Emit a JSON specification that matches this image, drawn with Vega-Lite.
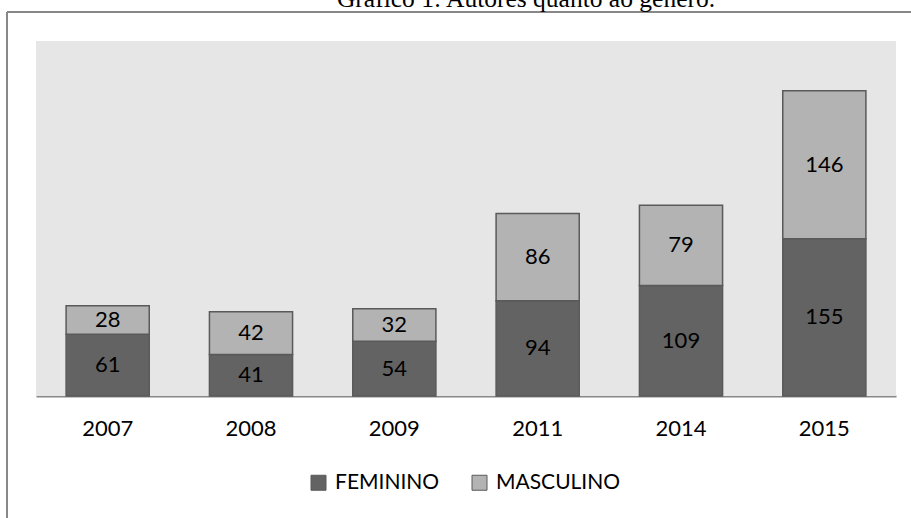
{
  "$schema": "https://vega.github.io/schema/vega-lite/v6.json",
  "width": 904,
  "height": 506,
  "autosize": {"type": "none"},
  "padding": {"left": 7, "top": 12, "right": 0, "bottom": 0},
  "background": "white",
  "title": {
    "text": "Gráfico 1: Autores quanto ao gênero.",
    "font": "Liberation Serif",
    "fontSize": 25.5,
    "fontWeight": "normal",
    "color": "#000000",
    "anchor": "middle",
    "dx": 67,
    "offset": 0
  },
  "config": {
    "view": {"stroke": "#888888", "strokeWidth": 2, "fill": "white", "strokeDash": [904, 1410, 506, 0]},
    "font": "Lato"
  },
  "layer": [
    {
      "data": {"values": [{"lo": 0, "hi": 1, "ylo": 0, "yhi": 350}]},
      "mark": {"type": "rect", "fill": "#e6e6e6"},
      "encoding": {
        "x": {"field": "lo", "type": "quantitative", "scale": {"domain": [0, 1], "range": [29, 889]}, "axis": null},
        "x2": {"field": "hi"},
        "y": {"field": "ylo", "type": "quantitative", "scale": {"domain": [0, 350], "range": [384, 29]}, "axis": null},
        "y2": {"field": "yhi"}
      }
    },
    {
      "data": {"name": "autores", "values": [
        {"ano": "2007", "sexo": "FEMININO", "n": 61},
        {"ano": "2007", "sexo": "MASCULINO", "n": 28},
        {"ano": "2008", "sexo": "FEMININO", "n": 41},
        {"ano": "2008", "sexo": "MASCULINO", "n": 42},
        {"ano": "2009", "sexo": "FEMININO", "n": 54},
        {"ano": "2009", "sexo": "MASCULINO", "n": 32},
        {"ano": "2011", "sexo": "FEMININO", "n": 94},
        {"ano": "2011", "sexo": "MASCULINO", "n": 86},
        {"ano": "2014", "sexo": "FEMININO", "n": 109},
        {"ano": "2014", "sexo": "MASCULINO", "n": 79},
        {"ano": "2015", "sexo": "FEMININO", "n": 155},
        {"ano": "2015", "sexo": "MASCULINO", "n": 146}
      ]},
      "layer": [
        {
          "mark": {"type": "bar", "stroke": "#5a5a5a", "strokeWidth": 1.5},
          "encoding": {
            "x": {
              "field": "ano", "type": "nominal",
              "scale": {"range": [29, 889], "paddingInner": 0.42, "paddingOuter": 0.21},
              "axis": {
                "title": null, "orient": "bottom", "offset": -122,
                "domainColor": "#888888", "domainWidth": 2,
                "ticks": false, "labelAngle": 0,
                "labelFont": "Lato", "labelFontSize": 22, "labelColor": "#000000",
                "labelPadding": 22
              }
            },
            "y": {"field": "n", "type": "quantitative", "stack": "zero",
                  "scale": {"domain": [0, 350], "range": [384, 29]}, "axis": null},
            "color": {
              "field": "sexo", "type": "nominal",
              "scale": {"domain": ["FEMININO", "MASCULINO"], "range": ["#636363", "#b3b3b3"]},
              "legend": {
                "title": null, "orient": "none", "direction": "horizontal",
                "legendX": 301, "legendY": 460,
                "symbolType": "square", "symbolSize": 225,
                "symbolStrokeColor": "#5a5a5a", "symbolStrokeWidth": 1,
                "labelFont": "Lato", "labelFontSize": 21, "labelColor": "#000000",
                "labelOffset": 6, "columnPadding": 29
              }
            },
            "order": {"field": "sexo"}
          }
        },
        {
          "transform": [
            {"stack": "n", "groupby": ["ano"], "sort": [{"field": "sexo"}], "as": ["y0", "y1"]},
            {"calculate": "(datum.y0 + datum.y1) / 2", "as": "ymid"}
          ],
          "mark": {"type": "text", "font": "Lato", "fontSize": 22, "color": "#000000", "baseline": "middle"},
          "encoding": {
            "x": {"field": "ano", "type": "nominal"},
            "y": {"field": "ymid", "type": "quantitative"},
            "text": {"field": "n", "type": "quantitative"}
          }
        }
      ]
    }
  ],
  "resolve": {"scale": {"x": "independent"}}
}
